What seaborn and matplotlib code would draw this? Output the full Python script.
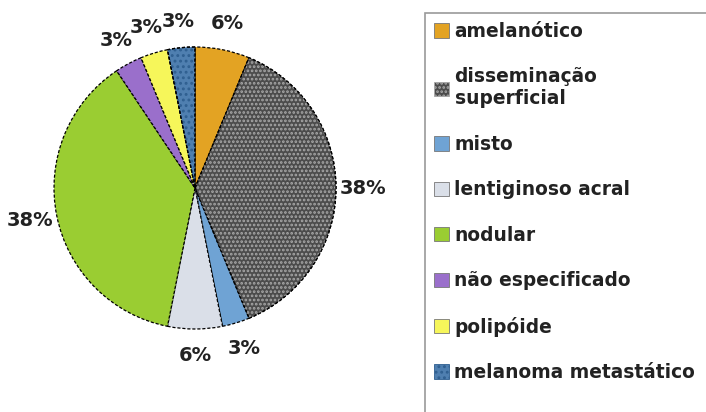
import matplotlib
matplotlib.use("Agg")
import matplotlib.pyplot as plt
import seaborn as sns
from matplotlib.patches import Rectangle, Wedge, Patch

sns.set_theme(style="white")
plt.rcParams['font.family'] = ['DejaVu Sans']
plt.rcParams['hatch.linewidth'] = 1.3

# ---- data ----
categories = ["amelanótico", "disseminação\nsuperficial", "misto", "lentiginoso acral",
              "nodular", "não especificado", "polipóide", "melanoma metastático"]
counts = [2, 12, 1, 2, 12, 1, 1, 1]
colors = ["#E3A323", "#4c4c4c", "#6FA3D4", "#DADFE8", "#9ACD32", "#9A6FCB", "#F6F65A", "#4F7FB0"]
hatches = [None, "....", None, None, None, None, None, "..."]
hatch_colors = [None, "#a8a8a8", None, None, None, None, None, "#2f5f90"]

W, H = 706, 412
fig = plt.figure(figsize=(W / 100, H / 100), dpi=100)
fig.patch.set_facecolor("white")

cx, cy, r = 195, 188, 141
side = 2.5 * r
ax = fig.add_axes([(cx - side / 2) / W, (H - cy - side / 2) / H, side / W, side / H])

dash = (0, (2.5, 1.5))
wedges, texts, autotexts = ax.pie(
    counts, colors=colors, startangle=90, counterclock=False,
    autopct="%1.0f%%", pctdistance=1.19,
    wedgeprops=dict(edgecolor="black", linestyle=dash, linewidth=0.9),
    textprops=dict(fontsize=14, fontweight="bold", color="#222222"),
)
for w, h, hc in zip(wedges, hatches, hatch_colors):
    if h:
        ax.add_patch(Wedge(w.center, w.r, w.theta1, w.theta2, facecolor="none",
                           edgecolor=hc, hatch=h, linewidth=0))
        ax.add_patch(Wedge(w.center, w.r, w.theta1, w.theta2, facecolor="none",
                           edgecolor="black", linestyle=dash, linewidth=0.9))
ax.set_xlim(-1.25, 1.25)
ax.set_ylim(-1.25, 1.25)
ax.set_aspect("equal")
ax.axis("off")

# legend frame (extends beyond figure edge like reference)
fig.add_artist(Rectangle((425 / W, -0.05), 0.5, 1 - 13 / H + 0.05,
                         transform=fig.transFigure, facecolor="none",
                         edgecolor="#9a9a9a", linewidth=1.2))

handles = [Patch(facecolor=c, edgecolor=hc if hc else "#777777", hatch=h, linewidth=0.6)
           for c, h, hc in zip(colors, hatches, hatch_colors)]
leg = fig.legend(handles, categories, loc="upper left",
                 bbox_to_anchor=(421 / W, 1 - 9 / H), frameon=False,
                 prop=dict(size=13.4, weight="bold"), labelcolor="#222222",
                 handlelength=0.8, handleheight=0.8, handletextpad=0.3,
                 labelspacing=1.42, borderpad=0.2)

fig.savefig("out.png", dpi=100, facecolor="white")
